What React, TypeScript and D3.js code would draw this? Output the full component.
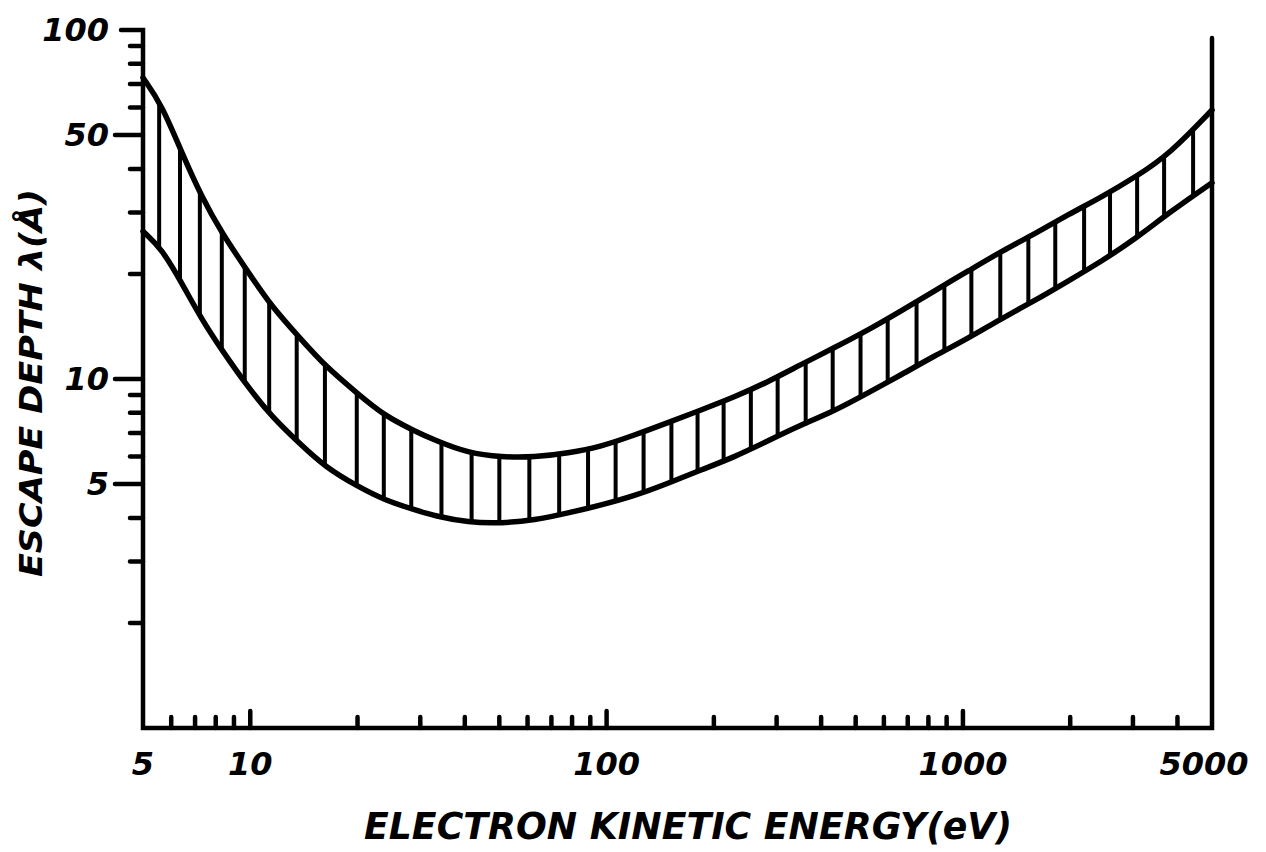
import * as d3 from "d3";

const W = 1266;
const H = 852;

// electron kinetic energy (eV) where the band edges were read
const ENERGY = [
  5, 5.65, 6.43, 7.31, 8.32, 9.91, 11.5, 13.7, 16.2, 20.1, 23.8, 28.9, 32.9,
  40.9, 50.7, 62.7, 78, 96.5, 119.5, 148.7, 184, 228, 283, 351, 436, 541, 673,
  832, 1036, 1282, 1596, 1976, 2459, 3061, 3793, 5000,
];
// escape depth (Å), upper edge of the band
const UPPER = [
  73, 61, 44.4, 33.2, 26.2, 20.1, 16.1, 13.2, 10.9, 9.05, 7.85, 7.1, 6.68,
  6.13, 5.97, 5.97, 6.13, 6.4, 6.9, 7.5, 8.15, 8.87, 9.8, 11.0, 12.3, 13.8,
  15.7, 17.9, 20.4, 23.2, 26.1, 29.6, 33.3, 38.0, 44.0, 59,
];
// escape depth (Å), lower edge of the band
const LOWER = [
  26.5, 23.6, 18.8, 14.8, 12.1, 9.4, 7.8, 6.56, 5.6, 4.91, 4.5, 4.22, 4.05,
  3.88, 3.86, 3.94, 4.13, 4.35, 4.62, 5.02, 5.49, 5.97, 6.64, 7.38, 8.1, 9.12,
  10.3, 11.65, 13.1, 14.9, 16.8, 19.1, 21.8, 25.3, 30.0, 36.5,
];
// energies of the vertical hatch strokes inside the band
const HATCH_ENERGY = [
  5.55, 6.35, 7.22, 8.32, 9.65, 11.3, 13.5, 16.2, 19.9, 23.7, 28.3, 34.4, 41.8,
  50, 60.7, 73.6, 88.7, 106, 127, 152, 180, 213, 254, 302, 362, 431, 516, 615,
  741, 887, 1056, 1273, 1526, 1816, 2188, 2587, 3082, 3669, 4425,
];

const X_LABELS = [5, 10, 100, 1000, 5000];
const X_MAJOR = [10, 100, 1000];
const X_MINOR = [
  6, 7, 8, 9, 20, 30, 40, 50, 60, 70, 80, 90, 200, 300, 400, 500, 600, 700,
  800, 900, 2000, 3000, 4000,
];
const Y_LABELS = [100, 50, 10, 5];
const Y_MINOR = [90, 80, 70, 60, 40, 30, 20, 9, 8, 7, 6, 4, 3, 2];

const X_TITLE = "ELECTRON KINETIC ENERGY(eV)";
const Y_TITLE = "ESCAPE DEPTH λ(Å)";

const FONT = "'DejaVu Sans', Verdana, sans-serif";

export default function App() {
  const x = d3.scaleLog().domain([5, 5000]).range([143, 1212]);
  const y = d3.scaleLog().domain([1, 100]).range([728, 30]);

  const idx = d3.range(ENERGY.length);
  const upperLine = d3
    .line<number>()
    .x((i) => x(ENERGY[i]))
    .y((i) => y(UPPER[i]))
    .curve(d3.curveBasis);
  const lowerLine = d3
    .line<number>()
    .x((i) => x(ENERGY[i]))
    .y((i) => y(LOWER[i]))
    .curve(d3.curveBasis);
  const band = d3
    .area<number>()
    .x((i) => x(ENERGY[i]))
    .y0((i) => y(LOWER[i]))
    .y1((i) => y(UPPER[i]))
    .curve(d3.curveBasis);

  const [x0, x1] = x.range();
  const [yb, yt] = y.range();

  return (
    <svg
      width={W}
      height={H}
      style={{ position: "absolute", left: 0, top: 0, background: "#fff" }}
    >
      <defs>
        <clipPath id="band">
          <path d={band(idx) || ""} />
        </clipPath>
      </defs>

      {/* hatching */}
      <g clipPath="url(#band)" stroke="#000" strokeWidth={4}>
        {HATCH_ENERGY.map((e, i) => (
          <line key={i} x1={x(e)} x2={x(e)} y1={yt} y2={yb} />
        ))}
      </g>

      {/* band edges */}
      <g fill="none" stroke="#000" strokeWidth={5.5} strokeLinecap="round">
        <path d={upperLine(idx) || ""} />
        <path d={lowerLine(idx) || ""} />
      </g>

      {/* frame */}
      <g fill="none" stroke="#000" strokeWidth={4.5} strokeLinecap="round">
        <polyline points={`${x0 - 22},${yt} ${x0},${yt} ${x0},${yb} ${x1},${yb} ${x1},${yt + 8}`} />
        {Y_LABELS.filter((v) => v !== 100).map((v) => (
          <line key={"ym" + v} x1={x0 - 28} x2={x0} y1={y(v)} y2={y(v)} />
        ))}
        {Y_MINOR.map((v) => (
          <line key={"yn" + v} x1={x0 - 13} x2={x0} y1={y(v)} y2={y(v)} />
        ))}
        {X_MAJOR.map((v) => (
          <line key={"xm" + v} x1={x(v)} x2={x(v)} y1={yb} y2={yb - 17} />
        ))}
        {X_MINOR.map((v) => (
          <line key={"xn" + v} x1={x(v)} x2={x(v)} y1={yb} y2={yb - 11} />
        ))}
      </g>

      {/* tick labels */}
      <g
        fontFamily={FONT}
        fontWeight="bold"
        fontStyle="italic"
        fontSize={32}
        fill="#000"
      >
        {Y_LABELS.map((v) => (
          <text
            key={"yl" + v}
            x={x0 - 34}
            y={y(v)}
            textAnchor="end"
            dominantBaseline="central"
          >
            {v}
          </text>
        ))}
        {X_LABELS.map((v) => (
          <text
            key={"xl" + v}
            x={x(v) - (v === 5000 ? 8 : 0)}
            y={yb + 36}
            textAnchor="middle"
            dominantBaseline="central"
          >
            {v}
          </text>
        ))}
      </g>

      {/* axis titles */}
      <text
        x={688}
        y={826}
        textAnchor="middle"
        dominantBaseline="central"
        fontFamily={FONT}
        fontWeight="bold"
        fontStyle="italic"
        fontSize={38}
        textLength={648}
        lengthAdjust="spacingAndGlyphs"
      >
        {X_TITLE}
      </text>
      <text
        transform="translate(31,383) rotate(-90)"
        textAnchor="middle"
        dominantBaseline="central"
        fontFamily={FONT}
        fontWeight="bold"
        fontStyle="italic"
        fontSize={32}
        textLength={388}
        lengthAdjust="spacingAndGlyphs"
      >
        {Y_TITLE}
      </text>
    </svg>
  );
}
